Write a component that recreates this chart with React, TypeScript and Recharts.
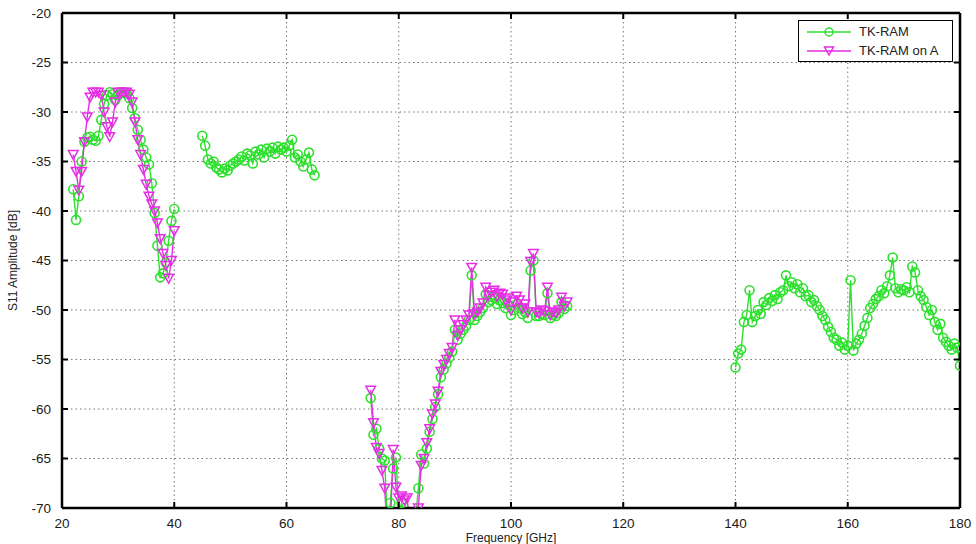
import { CartesianGrid, Line, LineChart, XAxis, YAxis } from "recharts";

// frequency grids of the measured bands [GHz]
const FREQ_A = [
  22, 22.5, 23, 23.5, 24, 24.5, 25, 25.5, 26, 26.5, 27, 27.5, 28, 28.5, 29, 29.5, 30, 30.5, 31,
  31.5, 32, 32.5, 33, 33.5, 34, 34.5, 35, 35.5, 36, 36.5, 37, 37.5, 38, 38.5, 39, 39.5, 40,
];
const FREQ_B = [
  45, 45.5, 46, 46.5, 47, 47.5, 48, 48.5, 49, 49.5, 50, 50.5, 51, 51.5, 52, 52.5, 53, 53.5, 54,
  54.5, 55, 55.5, 56, 56.5, 57, 57.5, 58, 58.5, 59, 59.5, 60, 60.5, 61, 61.5, 62, 62.5, 63, 63.5,
  64, 64.5, 65,
];
const FREQ_C = [
  75, 75.5, 76, 76.5, 77, 77.5, 78, 78.5, 79, 79.5, 80, 80.5, 81, 81.5, 82, 82.5, 83, 83.5, 84,
  84.5, 85, 85.5, 86, 86.5, 87, 87.5, 88, 88.5, 89, 89.5, 90, 90.5, 91, 91.5, 92, 92.5, 93, 93.5,
  94, 94.5, 95, 95.5, 96, 96.5, 97, 97.5, 98, 98.5, 99, 99.5, 100, 100.5, 101, 101.5, 102, 102.5,
  103, 103.5, 104, 104.5, 105, 105.5, 106, 106.5, 107, 107.5, 108, 108.5, 109, 109.5, 110,
];
const FREQ_D = [
  140, 140.5, 141, 141.5, 142, 142.5, 143, 143.5, 144, 144.5, 145, 145.5, 146, 146.5, 147, 147.5,
  148, 148.5, 149, 149.5, 150, 150.5, 151, 151.5, 152, 152.5, 153, 153.5, 154, 154.5, 155, 155.5,
  156, 156.5, 157, 157.5, 158, 158.5, 159, 159.5, 160, 160.5, 161, 161.5, 162, 162.5, 163, 163.5,
  164, 164.5, 165, 165.5, 166, 166.5, 167, 167.5, 168, 168.5, 169, 169.5, 170, 170.5, 171, 171.5,
  172, 172.5, 173, 173.5, 174, 174.5, 175, 175.5, 176, 176.5, 177, 177.5, 178, 178.5, 179, 179.5,
  180,
];

// S11 [dB], TK-RAM
const TK_A = [
  -37.8, -40.9, -38.5, -35.0, -33.0, -32.6, -32.5, -32.8, -32.9, -32.4, -30.8, -29.2, -28.3, -28.0,
  -28.2, -28.8, -28.3, -28.0, -28.0, -28.1, -28.6, -29.6, -30.6, -31.8, -32.8, -33.8, -34.6, -35.3,
  -37.2, -40.2, -43.5, -46.7, -46.3, -45.2, -43.0, -41.0, -39.8,
];
const TK_B = [
  -32.4, -33.4, -34.8, -35.2, -35.0, -35.6, -35.8, -36.1, -35.7, -35.9, -35.4, -35.2, -35.0, -34.8,
  -34.5, -34.9, -34.2, -34.4, -35.2, -34.0, -34.3, -33.8, -34.6, -33.7, -34.0, -33.6, -34.2, -33.5,
  -33.8, -33.6, -34.0, -33.4, -32.8, -34.6, -34.3, -35.0, -35.5, -34.8, -34.1, -35.8, -36.4,
];
const TK_C = [
  -58.9, -62.6, -62.0, -64.0, -65.0, -65.2, -72.0, -69.5, -66.0, -64.9, -70.5, -69.5, -70.5, -71.0,
  -72.0, -72.5, -71.0, -68.0, -64.6, -65.5, -64.0, -62.3, -61.0, -59.8, -58.5, -56.8, -56.0, -55.4,
  -54.8, -54.2, -52.0, -53.0, -52.4, -52.0, -51.6, -51.0, -46.5, -51.0, -50.6, -50.2, -49.8, -48.4,
  -49.2, -49.0, -48.8, -49.4, -49.0, -49.3, -49.8, -49.5, -50.5, -50.0, -49.4, -49.8, -50.4, -50.2,
  -50.8, -46.0, -45.0, -50.6, -50.6, -50.4, -50.5, -48.3, -50.8, -50.5, -50.6, -50.3, -49.2, -49.9,
  -49.6,
];
const TK_D = [
  -55.8, -54.4, -54.0, -51.2, -50.5, -48.0, -51.2, -50.6, -50.0, -50.4, -49.2, -49.5, -48.8, -49.1,
  -48.5, -48.9, -48.2, -48.0, -46.5, -47.6, -47.2, -47.8, -47.4, -48.2, -47.8, -48.6, -48.5, -49.2,
  -49.0, -49.6, -50.0, -50.6, -51.0, -51.7, -52.2, -52.8, -53.0, -53.6, -53.3, -54.0, -53.6, -47.0,
  -54.1, -53.4, -53.0, -52.4, -51.6, -50.8, -49.8, -49.4, -48.9, -48.6, -48.0, -48.3, -47.6, -46.5,
  -44.7, -47.8, -48.2, -47.9, -48.0, -47.7, -48.2, -45.6, -46.2, -48.0, -48.6, -49.0, -49.7, -50.5,
  -50.0, -51.2, -52.0, -51.4, -52.8, -53.2, -53.6, -54.0, -53.4, -53.8, -55.6,
];

// S11 [dB], TK-RAM on A
const ON_A = [
  -34.3, -36.0, -37.9, -36.0, -33.0, -30.5, -28.5, -28.0, -28.0, -28.0, -28.3, -30.0, -31.5, -32.5,
  -31.0, -29.0, -28.0, -28.0, -28.0, -28.0, -28.2, -29.0, -31.0, -32.8, -34.3, -35.8, -37.3, -38.5,
  -39.3, -40.0, -41.2, -42.8, -44.3, -45.5, -46.8, -45.0, -42.0,
];
const ON_C = [
  -58.1, -61.4, -63.9, -64.5, -66.2, -68.0, -73.0, -72.0, -64.1, -67.9, -69.0, -68.8, -69.2, -69.0,
  -72.0, -73.0, -72.5, -70.0, -65.7, -65.0, -63.4, -62.0, -60.5, -59.5, -58.2, -56.2, -55.5, -55.0,
  -54.4, -53.8, -51.0, -52.6, -52.0, -51.5, -51.0, -50.5, -45.7, -50.4, -50.2, -49.8, -49.3, -47.7,
  -48.5, -48.2, -48.0, -48.6, -48.3, -48.4, -49.0, -48.8, -50.0, -49.2, -48.6, -49.0, -49.8, -49.4,
  -50.2, -45.1, -44.3, -50.2, -50.3, -50.0, -50.1, -47.7, -50.5, -50.2, -50.3, -50.0, -48.7, -49.6,
  -49.2,
];

const X_TICKS = [20, 40, 60, 80, 100, 120, 140, 160, 180];
const Y_TICKS = [-70, -65, -60, -55, -50, -45, -40, -35, -30, -25, -20];

const GREEN = "#2ee02e";
const MAGENTA = "#e62ee6";
const FONT = "'Liberation Sans', Arial, sans-serif";
const TICK_LEN = 6;
const GAP = 10;

const toRows = (freq: number[], vals: number[]) => freq.map((f, i) => ({ f, v: vals[i] }));

const green = [toRows(FREQ_A, TK_A), toRows(FREQ_B, TK_B), toRows(FREQ_C, TK_C), toRows(FREQ_D, TK_D)];
const magenta = [toRows(FREQ_A, ON_A), toRows(FREQ_C, ON_C)];

const circleDot = (props: any) => {
  const { cx, cy, index } = props;
  if (cx == null || cy == null) return <g key={index} />;
  return <circle key={index} cx={cx} cy={cy} r={4.5} fill="none" stroke={GREEN} strokeWidth={1.6} />;
};

const triangleDot = (props: any) => {
  const { cx, cy, index } = props;
  if (cx == null || cy == null) return <g key={index} />;
  const pts = `${cx - 4.8},${cy - 4} ${cx + 4.8},${cy - 4} ${cx},${cy + 4.8}`;
  return <polygon key={index} points={pts} fill="none" stroke={MAGENTA} strokeWidth={1.5} />;
};

const textStyle = { fill: "#1a1a1a", fontSize: 13.5, fontFamily: FONT };

// inward tick marks (MATLAB style) drawn with the labels
const BottomTick = (props: any) => {
  const { x, y, payload } = props;
  const y0 = y - GAP;
  return (
    <g>
      <line x1={x} x2={x} y1={y0} y2={y0 - TICK_LEN} stroke="#000" strokeWidth={2} />
      <text x={x} y={y} dy="0.75em" textAnchor="middle" {...textStyle}>
        {payload.value}
      </text>
    </g>
  );
};

const TopTick = (props: any) => {
  const { x, y } = props;
  return <line x1={x} x2={x} y1={y} y2={y + TICK_LEN} stroke="#000" strokeWidth={2} />;
};

const LeftTick = (props: any) => {
  const { x, y, payload } = props;
  const x0 = x + GAP;
  return (
    <g>
      <line x1={x0} x2={x0 + TICK_LEN} y1={y} y2={y} stroke="#000" strokeWidth={2} />
      <text x={x - 1} y={y} dy="0.36em" textAnchor="end" {...textStyle}>
        {payload.value}
      </text>
    </g>
  );
};

const RightTick = (props: any) => {
  const { x, y } = props;
  return <line x1={x} x2={x - TICK_LEN} y1={y} y2={y} stroke="#000" strokeWidth={2} />;
};

export default function App() {
  return (
    <div style={{ position: "relative", width: 976, height: 544, background: "#fff" }}>
      <style>{`body{margin:0}`}</style>
      <LineChart width={976} height={544} margin={{ top: 3, right: 0, bottom: 0, left: 0 }}>
        <CartesianGrid stroke="#777" strokeDasharray="1.5 3" />
        <XAxis
          dataKey="f"
          type="number"
          domain={[20, 180]}
          ticks={X_TICKS}
          allowDataOverflow
          height={36}
          tickSize={0}
          tickLine={false}
          tickMargin={GAP}
          tick={BottomTick}
          stroke="#000"
          strokeWidth={2.5}
          label={{
            value: "Frequency [GHz]",
            position: "insideBottom",
            offset: 2,
            style: { fontSize: 12, fontFamily: FONT, fill: "#222" },
          }}
        />
        <XAxis
          xAxisId="top"
          orientation="top"
          dataKey="f"
          type="number"
          domain={[20, 180]}
          ticks={X_TICKS}
          allowDataOverflow
          height={10}
          tickSize={0}
          tickLine={false}
          tickMargin={0}
          tick={TopTick}
          stroke="#000"
          strokeWidth={2.5}
        />
        <YAxis
          type="number"
          domain={[-70, -20]}
          ticks={Y_TICKS}
          allowDataOverflow
          width={62}
          tickSize={0}
          tickLine={false}
          tickMargin={GAP}
          tick={LeftTick}
          stroke="#000"
          strokeWidth={2.5}
          label={{
            value: "S11 Amplitude [dB]",
            angle: -90,
            position: "insideLeft",
            offset: 13,
            style: { fontSize: 12, fontFamily: FONT, fill: "#222", textAnchor: "middle" },
          }}
        />
        <YAxis
          yAxisId="right"
          orientation="right"
          type="number"
          domain={[-70, -20]}
          ticks={Y_TICKS}
          allowDataOverflow
          width={16}
          tickSize={0}
          tickLine={false}
          tickMargin={0}
          tick={RightTick}
          stroke="#000"
          strokeWidth={2.5}
        />
        {green.map((seg, i) => (
          <Line
            key={`g${i}`}
            data={seg}
            dataKey="v"
            stroke={GREEN}
            strokeWidth={1.4}
            dot={circleDot}
            activeDot={false}
            isAnimationActive={false}
          />
        ))}
        {magenta.map((seg, i) => (
          <Line
            key={`m${i}`}
            data={seg}
            dataKey="v"
            stroke={MAGENTA}
            strokeWidth={1.4}
            dot={triangleDot}
            activeDot={false}
            isAnimationActive={false}
          />
        ))}
      </LineChart>
      <div
        style={{
          position: "absolute",
          left: 798,
          top: 20,
          width: 155,
          height: 42,
          boxSizing: "border-box",
          border: "1.5px solid #000",
          background: "#fff",
          overflow: "hidden",
          fontFamily: FONT,
          fontSize: 13,
          color: "#222",
        }}
      >
        <div style={{ display: "flex", alignItems: "center", height: 19, marginTop: 1 }}>
          <svg width={56} height={14}>
            <line x1={8} y1={7} x2={52} y2={7} stroke={GREEN} strokeWidth={1.4} />
            <circle cx={30} cy={7} r={4} fill="none" stroke={GREEN} strokeWidth={1.5} />
          </svg>
          <span style={{ marginLeft: 4, whiteSpace: "nowrap" }}>TK-RAM</span>
        </div>
        <div style={{ display: "flex", alignItems: "center", height: 19 }}>
          <svg width={56} height={14}>
            <line x1={8} y1={7} x2={52} y2={7} stroke={MAGENTA} strokeWidth={1.4} />
            <polygon points="25.5,3 34.5,3 30,11" fill="none" stroke={MAGENTA} strokeWidth={1.5} />
          </svg>
          <span style={{ marginLeft: 4, whiteSpace: "nowrap" }}>TK-RAM on A</span>
        </div>
      </div>
    </div>
  );
}
